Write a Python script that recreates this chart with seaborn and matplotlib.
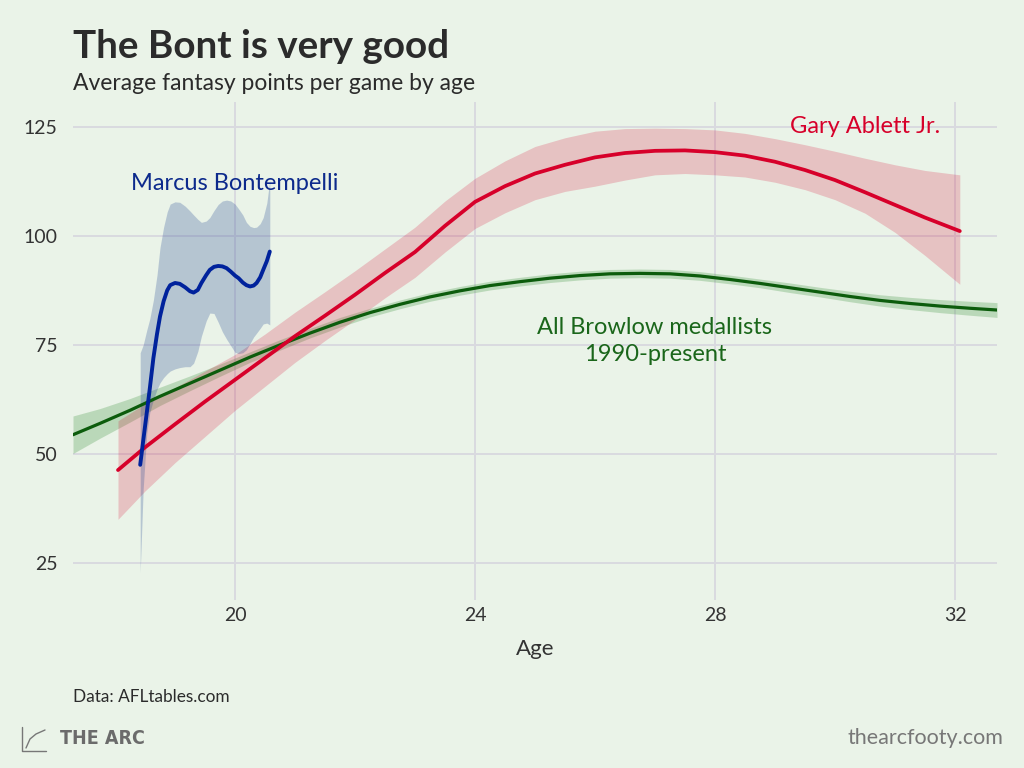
import matplotlib
matplotlib.use("Agg")
import matplotlib.pyplot as plt
import seaborn as sns
import pandas as pd
from matplotlib.lines import Line2D

# ---------------- data ----------------
brownlow_age = [17.3, 17.75, 18.25, 18.75, 19.25, 19.75, 20.25, 20.75, 21.25, 21.75,
                22.25, 22.75, 23.25, 23.75, 24.25, 24.75, 25.25, 25.75, 26.25, 26.75,
                27.25, 27.75, 28.25, 28.75, 29.25, 29.75, 30.25, 30.75, 31.25, 31.75,
                32.25, 32.7]
brownlow_mean = [54.4, 57.0, 60.0, 63.2, 66.2, 69.2, 72.2, 75.0, 77.7, 80.2,
                 82.4, 84.3, 86.0, 87.4, 88.6, 89.5, 90.3, 90.9, 91.3, 91.4,
                 91.3, 90.8, 90.0, 89.1, 88.1, 87.1, 86.1, 85.2, 84.5, 83.9,
                 83.4, 83.0]
brownlow_lo = [50.1, 53.6, 57.3, 61.1, 64.5, 67.8, 71.0, 73.8, 76.6, 79.1,
               81.4, 83.3, 85.0, 86.4, 87.6, 88.5, 89.3, 89.9, 90.3, 90.4,
               90.3, 89.8, 89.0, 88.1, 87.0, 86.0, 84.9, 83.9, 83.1, 82.4,
               81.8, 81.3]
brownlow_hi = [58.7, 60.4, 62.7, 65.3, 67.9, 70.6, 73.4, 76.2, 78.8, 81.3,
               83.4, 85.3, 87.0, 88.4, 89.6, 90.5, 91.3, 91.9, 92.3, 92.4,
               92.3, 91.8, 91.0, 90.1, 89.2, 88.2, 87.3, 86.5, 85.9, 85.4,
               85.0, 84.7]

ablett_age = [18.05, 18.5, 19.0, 19.5, 20.0, 20.5, 21.0, 21.5, 22.0, 22.5,
              23.0, 23.5, 24.0, 24.5, 25.0, 25.5, 26.0, 26.5, 27.0, 27.5,
              28.0, 28.5, 29.0, 29.5, 30.0, 30.5, 31.0, 31.5, 32.08]
ablett_mean = [46.3, 51.5, 56.8, 62.0, 67.0, 72.0, 77.0, 81.7, 86.5, 91.5,
               96.3, 102.3, 107.8, 111.4, 114.3, 116.3, 118.0, 119.0, 119.5, 119.6,
               119.2, 118.4, 117.0, 115.1, 112.8, 110.0, 107.1, 104.2, 101.1]
ablett_lo = [35.0, 41.5, 48.0, 54.0, 60.0, 65.5, 71.0, 76.0, 80.8, 85.8,
             90.5, 96.3, 101.7, 105.3, 108.3, 110.2, 111.4, 112.8, 114.0, 114.3,
             114.0, 113.5, 112.3, 110.6, 108.3, 105.2, 100.8, 95.5, 88.9]
ablett_hi = [57.6, 61.5, 65.2, 69.0, 72.8, 77.5, 82.5, 87.2, 92.0, 97.0,
             102.0, 108.0, 113.2, 117.2, 120.5, 122.5, 124.0, 124.6, 124.7, 124.6,
             124.3, 123.5, 122.3, 120.9, 119.4, 117.8, 116.3, 115.0, 114.0]

bont_age = [18.42, 18.47, 18.53, 18.58, 18.64, 18.70, 18.75, 18.81, 18.87, 18.92,
            19.0, 19.08, 19.17, 19.25, 19.31, 19.38, 19.44, 19.52, 19.58, 19.65,
            19.72, 19.79, 19.86, 19.93, 20.0, 20.06, 20.13, 20.19, 20.25, 20.31,
            20.36, 20.42, 20.47, 20.53, 20.58]
bont_mean = [47.5, 53.0, 59.5, 65.0, 72.0, 77.5, 81.5, 85.0, 87.5, 88.7,
             89.2, 89.0, 88.2, 87.3, 87.0, 87.6, 89.2, 91.0, 92.2, 92.9,
             93.1, 93.0, 92.6, 91.8, 90.9, 90.3, 89.3, 88.7, 88.4, 88.6,
             89.2, 90.5, 92.2, 94.2, 96.4]
bont_lo = [22.7, 42.0, 54.8, 59.5, 62.4, 64.8, 66.3, 67.5, 68.4, 69.0,
           69.5, 69.8, 70.0, 70.0, 70.8, 73.5, 77.0, 80.5, 82.3, 82.2,
           80.2, 78.0, 76.3, 74.8, 73.3, 73.0, 73.2, 73.9, 75.3, 76.8,
           77.7, 78.8, 79.8, 80.0, 79.6]
bont_hi = [73.2, 75.0, 78.4, 81.0, 85.3, 91.0, 97.3, 102.0, 105.5, 107.3,
           107.8, 107.7, 106.8, 105.7, 104.8, 103.8, 103.1, 103.4, 104.2, 105.8,
           107.2, 108.0, 108.2, 108.0, 107.3, 106.2, 104.8, 103.1, 102.2, 101.9,
           102.0, 102.8, 104.2, 107.5, 112.8]

x_ticks = [20, 24, 28, 32]
y_ticks = [25, 50, 75, 100, 125]

title = "The Bont is very good"
subtitle = "Average fantasy points per game by age"
source = "Data: AFLtables.com"

# ---------------- style ----------------
BG = "#eaf3e8"
GRID = "#d9dadf"
RED = "#d7002a"
GREEN = "#0c5c0c"
BLUE = "#00229c"
TXT = "#2b2b2b"

sns.set_theme(style="whitegrid")
plt.rcParams["font.family"] = ["Lato", "DejaVu Sans"]

fig = plt.figure(figsize=(10.24, 7.68), dpi=100, facecolor=BG)
ax = fig.add_axes([73 / 1024, 1 - 600 / 768, (997 - 73) / 1024, (600 - 102) / 768])
ax.set_facecolor(BG)

# bands
ax.fill_between(brownlow_age, brownlow_lo, brownlow_hi, color="#2e8b2e", alpha=0.25, lw=0, zorder=2)
ax.fill_between(ablett_age, ablett_lo, ablett_hi, color=RED, alpha=0.2, lw=0, zorder=2)
ax.fill_between(bont_age, bont_lo, bont_hi, color="#1a3f8f", alpha=0.25, lw=0, zorder=2)

# lines
sns.lineplot(x=brownlow_age, y=brownlow_mean, color=GREEN, lw=2.3, ax=ax, zorder=3)
sns.lineplot(x=ablett_age, y=ablett_mean, color=RED, lw=2.7, ax=ax, zorder=3)
sns.lineplot(x=bont_age, y=bont_mean, color=BLUE, lw=2.8, ax=ax, zorder=4)

ax.set_xlim(17.3, 32.7)
ax.set_ylim(16.5, 130.7)
ax.set_xticks(x_ticks)
ax.set_yticks(y_ticks)
ax.grid(True, color=GRID, lw=1.4)
ax.set_axisbelow(True)
for s in ax.spines.values():
    s.set_visible(False)
ax.tick_params(axis="both", length=0, labelsize=14, labelcolor="#333333")
ax.tick_params(axis="y", pad=11)
ax.tick_params(axis="x", pad=5)
ax.set_xlabel("Age", fontsize=16, color="#333333", labelpad=11)
ax.set_ylabel("")

# annotations
ax.text(20.0, 111.9, "Marcus Bontempelli", color="#0d2a8c", fontsize=17,
        ha="center", va="center")
ax.text(30.5, 125.0, "Gary Ablett Jr.", color=RED, fontsize=17,
        ha="center", va="center")
ax.text(27.0, 75.9, "All Browlow medallists\n1990-present", color="#1a661a",
        fontsize=17, ha="center", va="center", linespacing=1.3)

# titles
fig.text(73 / 1024, 1 - 47 / 768, title, fontsize=27.8, fontweight="bold",
         color=TXT, ha="left", va="center")
fig.text(73 / 1024, 1 - 84 / 768, subtitle, fontsize=16.5, color=TXT,
         ha="left", va="center")
fig.text(73 / 1024, 1 - 697 / 768, source, fontsize=12.4, color=TXT,
         ha="left", va="center")

# footer
fig.text(60 / 1024, 1 - 739 / 768, "THE ARC", fontsize=14, fontweight="bold",
         color="#6b6b6b", ha="left", va="center", family=["DejaVu Sans"],
         fontstretch="condensed")
fig.text(1003 / 1024, 1 - 738 / 768, "thearcfooty.com", fontsize=15.5,
         color="#777777", ha="right", va="center")
# small logo icon
fig.add_artist(Line2D([22 / 1024, 22 / 1024, 46 / 1024],
                      [1 - 727 / 768, 1 - 751 / 768, 1 - 751 / 768],
                      transform=fig.transFigure, color="#777777", lw=1.0))
fig.add_artist(Line2D([26 / 1024, 30 / 1024, 36 / 1024, 45 / 1024],
                      [1 - 748 / 768, 1 - 739 / 768, 1 - 734 / 768, 1 - 730 / 768],
                      transform=fig.transFigure, color="#777777", lw=1.0))

fig.savefig("out.png", dpi=100, facecolor=BG)
